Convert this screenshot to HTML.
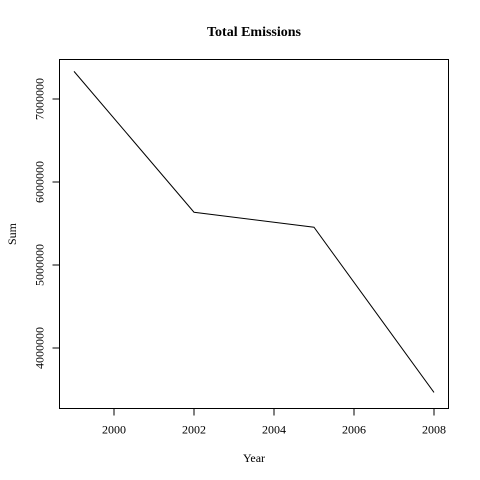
<!DOCTYPE html>
<html><head><meta charset="utf-8"><style>
body{margin:0;background:#fff}
svg{display:block;font-family:"Liberation Serif",serif}
</style></head><body>
<svg width="480" height="480" xmlns="http://www.w3.org/2000/svg">
<rect width="480" height="480" fill="#fff"/>
<g id="plot"></g>
</svg>
<script>
const years=[1999,2002,2005,2008];
const sums=[7332967,5635780,5454703,3464206];
const xTicks=[2000,2002,2004,2006,2008];
const yTicks=[4000000,5000000,6000000,7000000];
const L=59.5,R=448.5,T=59.5,B=408.5;
function xs(v){return 74+(v-1999)*40;}
function ys(v){return 99-(v-7000000)/1000000*83;}
const g=document.getElementById('plot');
const NS='http://www.w3.org/2000/svg';
function mk(t,a){const e=document.createElementNS(NS,t);for(const k in a)e.setAttribute(k,a[k]);g.appendChild(e);return e;}
const box=mk('rect',{x:L,y:T,width:R-L,height:B-T,fill:'none',stroke:'#000'});


const pts=years.map((y,i)=>xs(y)+','+ys(sums[i])).join(' ');
const line=mk('polyline',{points:pts,fill:'none',stroke:'#000','stroke-width':1});


xTicks.forEach(v=>{
  const x=xs(v);
  const tk=mk('line',{x1:x,x2:x,y1:B,y2:B+7,stroke:'#000'});
  
  
  const t=mk('text',{x:x,y:B+25,'text-anchor':'middle','font-size':12});
  t.textContent=v;
  
  
});
yTicks.forEach(v=>{
  const y=ys(v);
  const tk=mk('line',{x1:L-7,x2:L,y1:y,y2:y,stroke:'#000'});
  
  
  const t=mk('text',{x:0,y:0,'text-anchor':'middle','font-size':12,transform:'translate('+(L-16)+','+y+') rotate(-90)'});
  t.textContent=v;
  
  
});
const ti=mk('text',{x:254,y:36,'text-anchor':'middle','font-size':14,'font-weight':'bold'});
ti.textContent='Total Emissions';


const xt=mk('text',{x:254,y:462,'text-anchor':'middle','font-size':12});
xt.textContent='Year';


const yt=mk('text',{x:0,y:0,'text-anchor':'middle','font-size':12,transform:'translate(16,234) rotate(-90)'});
yt.textContent='Sum';


</script>
</body></html>
